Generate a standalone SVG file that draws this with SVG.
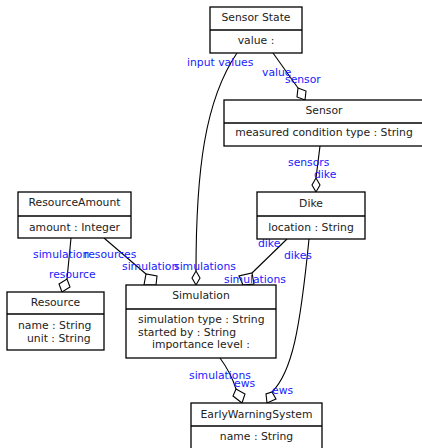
<svg xmlns="http://www.w3.org/2000/svg" width="422" height="448" viewBox="0 0 422 448">
<style>
.box{fill:#fff;stroke:#000;stroke-width:1.3}
.div{stroke:#000;stroke-width:1.3}
.t{font-family:"DejaVu Sans",sans-serif;font-size:10.8px;fill:#222}
.c{text-anchor:middle}
.lbl{font-family:"DejaVu Sans",sans-serif;font-size:10.8px;fill:#1a1aff}
.edge{fill:none;stroke:#000;stroke-width:1.1}
.dia{fill:#fff;stroke:#000;stroke-width:1.1}
</style>
<rect width="422" height="448" fill="#fff"/>
<g id="connectors">
<path class="edge" d="M237,53 C205,100 196,170 196,271"/>
<path class="dia" d="M196,285 L192,278 L196,271 L200,278 Z"/>
<path class="edge" d="M273,53 L298,88"/>
<path class="dia" d="M305,100 L297,97 L298,88 L306,91 Z"/>
<path class="edge" d="M320,146 L316,178"/>
<path class="dia" d="M316,192 L312,185 L316,178 L320,185 Z"/>
<path class="edge" d="M71,238 L67,279"/>
<path class="dia" d="M62,292 L59,284 L67,279 L70,287 Z"/>
<path class="edge" d="M104,238 L146,274"/>
<path class="dia" d="M156,285 L144,285 L146,274 L157,276 Z"/>
<path class="edge" d="M287,239 L252,273"/>
<path class="dia" d="M243,285 L239,276 L252,273 L254,284 Z"/>
<path class="edge" d="M220,358 Q231,373 236,389"/>
<path class="dia" d="M242,403 L233,396 L236,389 L245,394 Z"/>
<path class="edge" d="M309,239 C300,330 292,372 272,392"/>
<path class="dia" d="M267,403 L266,394 L272,392 L276,399 Z"/>
</g>
<g id="labels">
<text class="lbl" x="187" y="66">input values</text>
<text class="lbl" x="262" y="76">value</text>
<text class="lbl" x="285" y="83">sensor</text>
<text class="lbl" x="288" y="166">sensors</text>
<text class="lbl" x="314" y="178">dike</text>
<text class="lbl" x="258" y="247">dike</text>
<text class="lbl" x="284" y="259">dikes</text>
<text class="lbl" x="224" y="283">simulations</text>
<text class="lbl" x="33" y="258">simulation</text>
<text class="lbl" x="84" y="258">resources</text>
<text class="lbl" x="49" y="278">resource</text>
<text class="lbl" x="122" y="270">simulation</text>
<text class="lbl" x="174" y="270">simulations</text>
<text class="lbl" x="189" y="379">simulations</text>
<text class="lbl" x="234" y="387">ews</text>
<text class="lbl" x="272" y="394">ews</text>
</g>
<g id="SensorState">
<rect class="box" x="210" y="7" width="92" height="46"/>
<line class="div" x1="210" y1="30" x2="302" y2="30"/>
<text class="t c" x="256" y="21">Sensor State</text>
<text class="t c" x="256" y="44">value :</text>
</g>
<g id="Sensor">
<rect class="box" x="224" y="100" width="200" height="46"/>
<line class="div" x1="224" y1="123" x2="424" y2="123"/>
<text class="t c" x="324" y="114">Sensor</text>
<text class="t c" x="324" y="136">measured condition type : String</text>
</g>
<g id="Dike">
<rect class="box" x="257" y="192" width="108" height="47"/>
<line class="div" x1="257" y1="216" x2="365" y2="216"/>
<text class="t c" x="311" y="207">Dike</text>
<text class="t c" x="311" y="231">location : String</text>
</g>
<g id="ResourceAmount">
<rect class="box" x="18" y="192" width="113" height="46"/>
<line class="div" x1="18" y1="216" x2="131" y2="216"/>
<text class="t c" x="74.5" y="206">ResourceAmount</text>
<text class="t c" x="74.5" y="231">amount : Integer</text>
</g>
<g id="Resource">
<rect class="box" x="7" y="292" width="97" height="58"/>
<line class="div" x1="7" y1="314" x2="104" y2="314"/>
<text class="t c" x="55.5" y="306">Resource</text>
<text class="t" x="18" y="329">name : String</text>
<text class="t" x="27" y="342">unit : String</text>
</g>
<g id="Simulation">
<rect class="box" x="126" y="285" width="150" height="73"/>
<line class="div" x1="126" y1="309" x2="276" y2="309"/>
<text class="t c" x="201" y="299">Simulation</text>
<text class="t" x="138" y="323">simulation type : String</text>
<text class="t" x="138" y="336">started by : String</text>
<text class="t" x="152" y="348">importance level :</text>
</g>
<g id="EarlyWarningSystem">
<rect class="box" x="191" y="403" width="131" height="50"/>
<line class="div" x1="191" y1="426" x2="322" y2="426"/>
<text class="t c" x="256.5" y="418">EarlyWarningSystem</text>
<text class="t c" x="256.5" y="440">name : String</text>
</g>
</svg>
